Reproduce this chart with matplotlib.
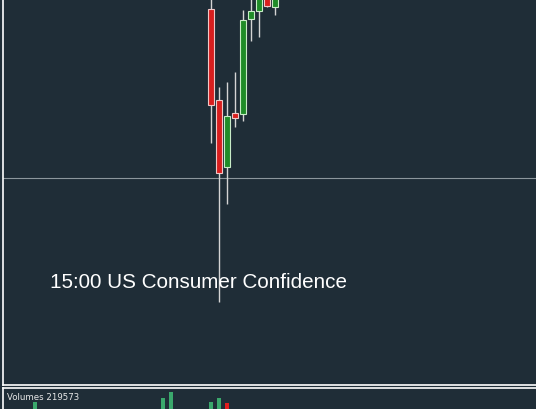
import numpy as np
import matplotlib
matplotlib.use("Agg")
import matplotlib.pyplot as plt

# candle data (bar index, prices)
idx = np.array([0, 1, 2, 3, 4, 5, 6, 7, 8])
opens = np.array([1.3391, 1.3300, 1.3233, 1.3287, 1.3286, 1.3381, 1.3389, 1.3410, 1.3393])
closes = np.array([1.3295, 1.3227, 1.3284, 1.3282, 1.3380, 1.3389, 1.3405, 1.3394, 1.3405])
highs = np.array([1.3405, 1.3313, 1.3318, 1.3328, 1.3390, 1.3410, 1.3420, 1.3420, 1.3420])
lows = np.array([1.3257, 1.3098, 1.3196, 1.3273, 1.3279, 1.3359, 1.3363, 1.3393, 1.3385])

# volume bars that show in the lower panel
vol_idx = np.array([-22, -6, -5, 0, 1, 2])
volumes = np.array([220000, 260000, 320000, 220000, 260000, 210000])
vol_up = np.array([True, True, True, True, True, False])
last_volume = 219573

cross_price = 1.3222
event_text = "15:00 US Consumer Confidence"

bg = '#1f2d37'
W, H = 536, 409
fig = plt.figure(figsize=(W / 100, H / 100), dpi=100, facecolor=bg)

# main price panel
ax = fig.add_axes([3 / W, 24 / H, 540 / W, 390 / H], facecolor=bg)
ax.set_xlim(-26, -26 + 540 / 8)
ax.set_ylim(1.3015, 1.3015 + 390 * 0.0001)

ax.axhline(cross_price, color='#8c969c', lw=0.8)

up = closes >= opens
for i in range(len(idx)):
    ax.vlines(idx[i], lows[i], highs[i], color='#d4d4d4', lw=1, zorder=2)
body_lo = np.minimum(opens, closes)
body_h = np.abs(closes - opens)
ax.bar(idx[~up], body_h[~up], bottom=body_lo[~up], width=0.7,
       color='#d81e1e', edgecolor='#f0c8c8', lw=0.8, zorder=3)
ax.bar(idx[up], body_h[up], bottom=body_lo[up], width=0.7,
       color='#1f8c28', edgecolor='#c8ecc8', lw=0.8, zorder=3)

ax.text(-20.1, 1.3118, event_text, color='white', fontsize=14.9,
        family='Liberation Sans', va='center', ha='left')

for s in ['top', 'right']:
    ax.spines[s].set_visible(False)
for s in ['left', 'bottom']:
    ax.spines[s].set_color('white')
    ax.spines[s].set_linewidth(1.2)
ax.set_xticks([])
ax.set_yticks([])

# volume panel
vax = fig.add_axes([3 / W, -10 / H, 540 / W, 31 / H], facecolor=bg)
vax.set_xlim(-26, -26 + 540 / 8)
vax.set_ylim(50000, 360000)
vax.bar(vol_idx[vol_up], volumes[vol_up] - 50000, bottom=50000, width=0.5,
        color='#3aa86c', lw=0)
vax.bar(vol_idx[~vol_up], volumes[~vol_up] - 50000, bottom=50000, width=0.5,
        color='#e01e1e', lw=0)
vax.text(0.008, 0.7, f"Volumes {last_volume}", transform=vax.transAxes,
         color='#e8e8e8', fontsize=6.2, family='DejaVu Sans', va='center', ha='left')
for s in ['bottom', 'right']:
    vax.spines[s].set_visible(False)
for s in ['left', 'top']:
    vax.spines[s].set_color('white')
    vax.spines[s].set_linewidth(1.2)
vax.set_xticks([])
vax.set_yticks([])

fig.savefig('out.png', dpi=100, facecolor=bg)
